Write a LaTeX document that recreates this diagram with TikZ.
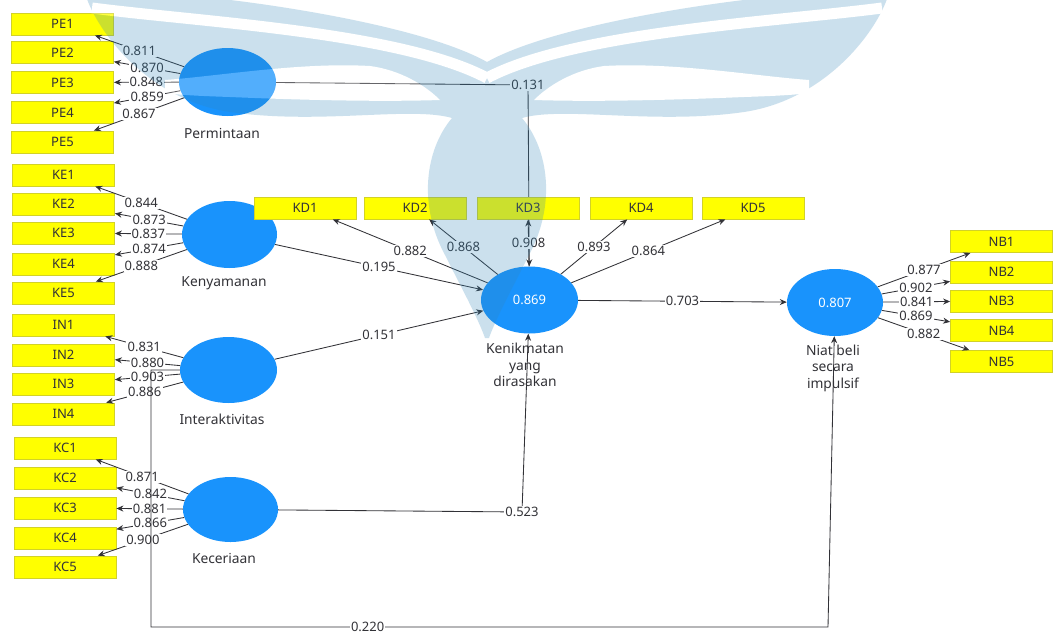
\documentclass[tikz,border=0pt]{standalone}
\usepackage{fontspec}
\setmainfont{Noto Sans}
\usetikzlibrary{shapes.geometric,arrows.meta}
\definecolor{latent}{RGB}{25,147,252}
\definecolor{indfill}{RGB}{255,255,0}
\definecolor{indedge}{RGB}{210,210,40}
\definecolor{ink}{RGB}{50,50,55}
\definecolor{wm}{RGB}{50,135,185}
\pgfdeclarelayer{bg}
\pgfsetlayers{bg,main}

\begin{document}
\begin{tikzpicture}[x=1pt,y=-1pt,
  ind/.style={rectangle,minimum width=102pt,minimum height=22pt,inner sep=0pt,
    fill=indfill,draw=indedge,line width=0.8pt,
    font=\fontsize{13}{15}\selectfont,text=ink},
  lat/.style={ellipse,inner sep=0pt,fill=latent,text=white,
    font=\fontsize{13}{15}\selectfont},
  ltext/.style={font=\fontsize{13.8}{16.5}\selectfont,text=ink,align=center,inner sep=0pt},
  lbl/.style={fill=white,inner sep=1.2pt,font=\fontsize{13}{15}\selectfont,text=ink},
  arr/.style={draw=ink,line width=0.85pt,-{Stealth[length=7pt,width=6pt]}},
]
\useasboundingbox (0,0) rectangle (1054,635);
\begin{pgfonlayer}{bg}
  \fill[white] (0,0) rectangle (1054,635);
\end{pgfonlayer}

% latent variables
\node[lat,minimum width=97pt,minimum height=68pt] (perm)  at (227.5,82)  {};
\node[lat,minimum width=95pt,minimum height=67pt] (keny)  at (229.5,234.5) {};
\node[lat,minimum width=97pt,minimum height=66pt] (inter) at (228.5,370) {};
\node[lat,minimum width=95pt,minimum height=65pt] (kec)   at (230.5,509.5) {};
\node[lat,minimum width=97pt,minimum height=67pt] (ken)   at (529.5,300) {0.869};
\node[lat,minimum width=96pt,minimum height=67pt] (niat)  at (835,302.5) {0.807};

% captions of the latent variables
\node[ltext] (permC)  at (222,133) {Permintaan};
\node[ltext] (kenyC)  at (224,283) {Kenyamanan};
\node[ltext] (interC) at (222,419) {Interaktivitas};
\node[ltext] (kecC)   at (224,558) {Keceriaan};
\node[ltext] (kenC)   at (525,365) {Kenikmatan\\yang\\dirasakan};
\node[ltext] (niatC)  at (833,368) {Niat beli\\secara\\impulsif};

% bend points of the structural paths
\coordinate (b131) at (528,85);
\coordinate (b523) at (522,512);
\coordinate (b220a) at (151,370);
\coordinate (b220b) at (151,627);
\coordinate (b220c) at (828,627);

% path from Permintaan runs behind the KD3 box
\begin{pgfonlayer}{bg}
  \draw[arr] (perm) -- (b131) -- (ken);
\end{pgfonlayer}

% indicators
\foreach \n/\y in {1/24,2/52.5,3/82.5,4/112.5,5/142}
  \node[ind] (PE\n) at (62.5,\y) {PE\n};
\foreach \n/\y in {1/175,2/204,3/233,4/264,5/293}
  \node[ind] (KE\n) at (63.5,\y) {KE\n};
\foreach \n/\y in {1/325,2/355,3/384,4/414}
  \node[ind] (IN\n) at (63.5,\y) {IN\n};
\foreach \n/\y in {1/448,2/478,3/508,4/538,5/567}
  \node[ind] (KC\n) at (65,\y) {KC\n};
\foreach \n/\x in {1/305,2/415,3/528,4/641,5/753}
  \node[ind] (KD\n) at (\x,208) {KD\n};
\foreach \n/\y in {1/241.5,2/272,3/301,4/330.5,5/361.5}
  \node[ind] (NB\n) at (1001.5,\y) {NB\n};

% structural paths
\draw[arr] (keny) -- node[lbl]{0.195} (ken);
\draw[arr] (inter) -- node[lbl]{0.151} (ken);
\draw[arr] (kec) -- (b523) -- (ken);
\draw[arr] (ken) -- node[lbl]{0.703} (niat);

% outer loadings
\foreach \n/\v in {1/0.811,2/0.870,3/0.848,4/0.859,5/0.867}
  \draw[arr] (perm) -- node[lbl]{\v} (PE\n);
\foreach \n/\v in {1/0.844,2/0.873,3/0.837,4/0.874,5/0.888}
  \draw[arr] (keny) -- node[lbl]{\v} (KE\n);
\foreach \n/\v in {1/0.831,2/0.880,3/0.903,4/0.886}
  \draw[arr] (inter) -- node[lbl]{\v} (IN\n);
\foreach \n/\v in {1/0.871,2/0.842,3/0.881,4/0.866,5/0.900}
  \draw[arr] (kec) -- node[lbl]{\v} (KC\n);
\foreach \n/\v in {1/0.882,2/0.868,3/0.908,4/0.893,5/0.864}
  \draw[arr] (ken) -- node[lbl]{\v} (KD\n);
\foreach \n/\v in {1/0.877,2/0.902,3/0.841,4/0.869,5/0.882}
  \draw[arr] (niat) -- node[lbl]{\v} (NB\n);

% long path from Interaktivitas to Niat beli
\draw[arr] (inter) -- (b220a) -- (b220b) -- node[lbl,pos=0.32]{0.220} (b220c) -- (niat);

% labels at the bends
\node[lbl] (l131) at (b131) {0.131};
\node[lbl] (l523) at (b523) {0.523};

% faint emblem laid over the diagram: winged vase with white stripes
\begin{scope}[transparency group,opacity=0.25]
  \foreach \s in {1,-1}{
    \begin{scope}[xshift=487pt,xscale=\s,xshift=-487pt]
      \fill[wm] (87,-1) .. controls (100,35) and (150,100) .. (230,112)
            .. controls (320,125) and (410,106) .. (452,118)
            .. controls (425,150) and (418,205) .. (445,255)
            .. controls (460,285) and (478,318) .. (485,338)
            -- (487,338) -- (487,62)
            .. controls (430,30) and (300,8) .. (222,-1) -- cycle;
      \draw[white,line width=11pt] (92,8) .. controls (200,22) and (400,32) .. (487,78);
      \fill[white] (165,80) .. controls (220,76) and (300,62) .. (370,66)
            .. controls (400,70) and (425,85) .. (440,100)
            .. controls (380,102) and (300,100) .. (230,97)
            .. controls (200,96) and (180,95) .. (165,93) -- cycle;
    \end{scope}
  }
\end{scope}
\end{tikzpicture}
\end{document}
